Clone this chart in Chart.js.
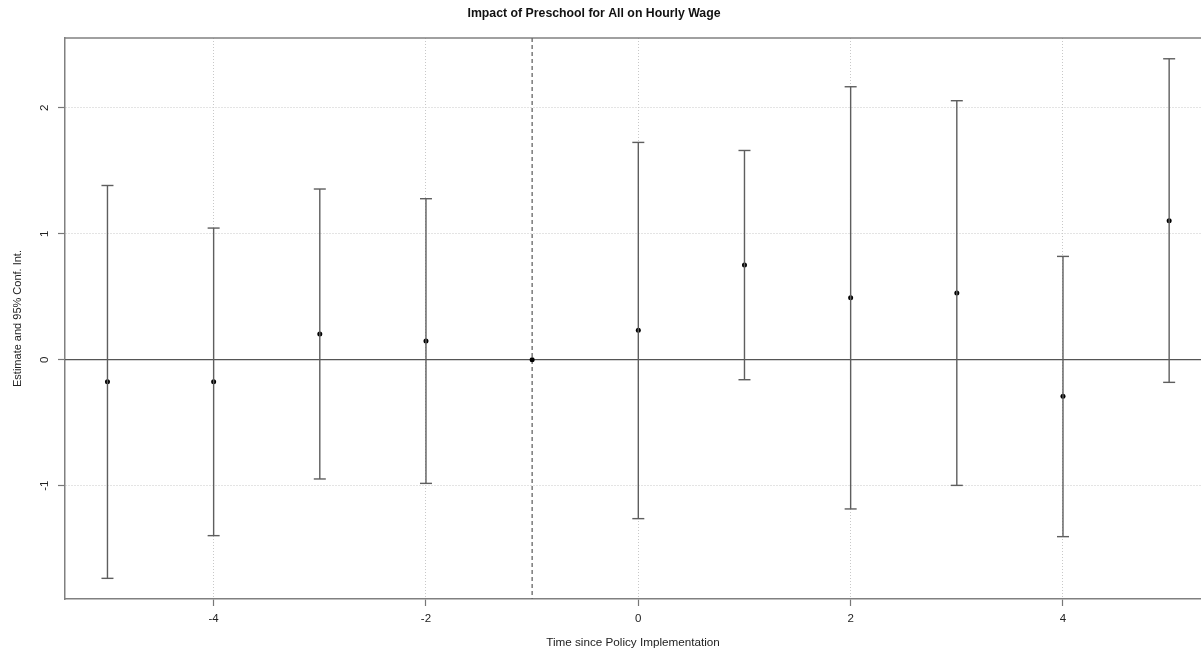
<!DOCTYPE html>
<html>
<head>
<meta charset="utf-8">
<script src="https://cdn.jsdelivr.net/npm/chart.js@4.4.1/dist/chart.umd.min.js"></script>
<style>
  html, body { margin: 0; padding: 0; background: #fff; overflow: hidden; }
  #wrap { position: relative; width: 1201px; height: 651px; }
</style>
</head>
<body>
<div id="wrap"><canvas id="chart"></canvas></div>
<script>
// ── Data ──────────────────────────────────────────────────────────────────────
const periods   = [-5, -4, -3, -2, -1, 0, 1, 2, 3, 4, 5];
const estimates = [-0.175, -0.175, 0.204, 0.148, 0, 0.233, 0.751, 0.492, 0.529, -0.291, 1.103];
const ciLower   = [-1.736, -1.397, -0.947, -0.982, null, -1.262, -0.159, -1.185, -0.998, -1.405, -0.180];
const ciUpper   = [1.383, 1.045, 1.355, 1.278, null, 1.725, 1.661, 2.167, 2.056, 0.820, 2.389];
const xTicks    = [-4, -2, 0, 2, 4];
const yTicks    = [-1, 0, 1, 2];
const refPeriod = -1;

const TITLE = 'Impact of Preschool for All on Hourly Wage';
const FONT = "'Liberation Sans', Arial, sans-serif";

Chart.defaults.font.family = FONT;
Chart.defaults.color = '#222';

// ── Build datasets ────────────────────────────────────────────────────────────
const whiskers = [];
const caps = [];
periods.forEach((p, i) => {
    if (ciLower[i] == null) return;
    whiskers.push({ x: p, y: ciLower[i] }, { x: p, y: ciUpper[i] }, { x: p, y: null });
    caps.push({ x: p, y: ciLower[i] }, { x: p, y: ciUpper[i] });
});
const points = periods.map((p, i) => ({ x: p, y: estimates[i] }));

// ── Plugins: frame top, reference lines, title ───────────────────────────────
const refLines = {
    id: 'refLines',
    beforeDatasetsDraw(chart) {
        const { ctx, chartArea: a, scales: { x, y } } = chart;
        ctx.save();
        // top of the box
        ctx.strokeStyle = '#808080';
        ctx.lineWidth = 1.5;
        ctx.beginPath();
        ctx.moveTo(a.left, a.top);
        ctx.lineTo(a.right, a.top);
        ctx.stroke();
        // horizontal zero line
        const y0 = y.getPixelForValue(0);
        ctx.strokeStyle = '#555';
        ctx.lineWidth = 1.2;
        ctx.beginPath();
        ctx.moveTo(a.left, y0);
        ctx.lineTo(a.right, y0);
        ctx.stroke();
        // dashed policy line
        const xr = x.getPixelForValue(refPeriod);
        ctx.strokeStyle = '#666';
        ctx.lineWidth = 1.3;
        ctx.setLineDash([4, 3]);
        ctx.beginPath();
        ctx.moveTo(xr, a.top);
        ctx.lineTo(xr, a.bottom);
        ctx.stroke();
        ctx.restore();
    }
};

const titlePlugin = {
    id: 'rTitle',
    afterDraw(chart) {
        const { ctx } = chart;
        ctx.save();
        ctx.font = `bold 12.3px ${FONT}`;
        ctx.fillStyle = '#111';
        ctx.textAlign = 'center';
        ctx.textBaseline = 'middle';
        ctx.fillText(TITLE, 594, 14);
        ctx.restore();
    }
};

// ── Chart ─────────────────────────────────────────────────────────────────────
const axisCommon = {
    type: 'linear',
    grid: {
        color: '#c8c8c8', lineWidth: 1,
        drawTicks: true, tickLength: 7, tickColor: '#777', tickWidth: 1.2, tickBorderDash: []
    },
    border: { display: true, color: '#808080', width: 1.5, dash: [1, 2] }
};

new Chart(document.getElementById('chart'), {
    type: 'line',
    data: {
        datasets: [
            {
                label: 'ci',
                data: whiskers,
                borderColor: '#5e5e5e', borderWidth: 1.4,
                pointRadius: 0, spanGaps: false, tension: 0
            },
            {
                label: 'caps',
                data: caps,
                showLine: false,
                pointStyle: 'line', pointRadius: 6, pointHoverRadius: 6,
                pointBorderColor: '#5e5e5e', pointBorderWidth: 1.4
            },
            {
                label: 'estimate',
                data: points,
                showLine: false,
                pointStyle: 'circle', pointRadius: 2.5, pointHoverRadius: 2.5,
                pointBackgroundColor: '#000', pointBorderColor: '#000', pointBorderWidth: 0
            }
        ]
    },
    options: {
        responsive: true, maintainAspectRatio: false, animation: false,
        layout: { autoPadding: false, padding: { top: 38, right: 0, left: 0, bottom: 0 } },
        plugins: { legend: { display: false }, tooltip: { enabled: false }, title: { display: false } },
        scales: {
            x: {
                ...axisCommon,
                min: -5.4, max: 5.3,
                afterBuildTicks: s => { s.ticks = xTicks.map(v => ({ value: v })); },
                afterFit: s => { s.height = 52; },
                ticks: { font: { size: 11.5 }, color: '#222', padding: 6, maxRotation: 0 },
                title: {
                    display: true, text: 'Time since Policy Implementation',
                    font: { size: 11.7 }, color: '#222', padding: { top: 0, bottom: 1.5 }
                }
            },
            y: {
                ...axisCommon,
                min: -1.9, max: 2.554,
                afterBuildTicks: s => { s.ticks = yTicks.map(v => ({ value: v })); },
                afterFit: s => { s.width = 65; },
                ticks: {
                    font: { size: 11.5 }, color: '#222', padding: 8,
                    minRotation: 90, maxRotation: 90, crossAlign: 'center'
                },
                title: {
                    display: true, text: 'Estimate and 95% Conf. Int.',
                    font: { size: 11 }, color: '#222', padding: { top: 11, bottom: 0 }
                }
            }
        }
    },
    plugins: [refLines, titlePlugin]
});
</script>
</body>
</html>
